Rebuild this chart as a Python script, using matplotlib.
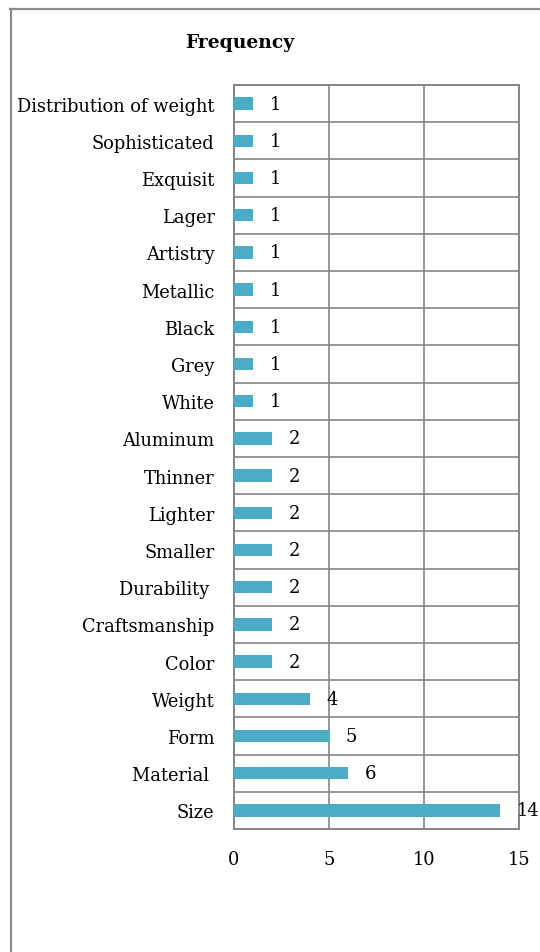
import matplotlib.pyplot as plt
from matplotlib.lines import Line2D
import numpy as np

categories = ["Distribution of weight", "Sophisticated", "Exquisit", "Lager", "Artistry",
              "Metallic", "Black", "Grey", "White", "Aluminum", "Thinner", "Lighter",
              "Smaller", "Durability ", "Craftsmanship", "Color", "Weight", "Form",
              "Material ", "Size"]
values = [1, 1, 1, 1, 1, 1, 1, 1, 1, 2, 2, 2, 2, 2, 2, 2, 4, 5, 6, 14]
xticks = [0, 5, 10, 15]

plt.rcParams['font.family'] = ['DejaVu Serif']

W, H = 540, 953
fig = plt.figure(figsize=(W / 100, H / 100), dpi=100)
ax = fig.add_axes([234 / W, 1 - 830 / H, (519 - 234) / W, (830 - 86) / H])

y = np.arange(len(categories))
ax.barh(y, values, height=0.33, color="#4BACC6", zorder=3)
ax.set_ylim(len(categories) - 0.5, -0.5)
ax.set_xlim(0, 15)

fs = 12.9
ax.set_yticks(y)
ax.set_yticklabels(categories, fontsize=fs)
ax.set_xticks(xticks)
ax.set_xticklabels([str(t) for t in xticks], fontsize=fs)
ax.tick_params(axis="both", length=0)
ax.tick_params(axis="y", pad=14)
ax.tick_params(axis="x", pad=15)

# gridlines between categories and at x ticks
ax.set_yticks(np.arange(len(categories) + 1) - 0.5, minor=True)
ax.tick_params(axis="y", which="minor", length=0)
ax.grid(axis="y", which="minor", color="#868686", linewidth=1.2, zorder=0)
ax.grid(axis="x", which="major", color="#868686", linewidth=1.2, zorder=0)
for s in ax.spines.values():
    s.set_color("#868686")
    s.set_linewidth(1.4)

for yi, v in zip(y, values):
    ax.annotate(str(v), (v, yi), xytext=(12, 0), textcoords="offset points",
                ha="left", va="center", fontsize=fs)

fig.text(240 / W, 1 - 43 / H, "Frequency", ha="center", va="center",
         fontsize=13.5, fontweight="bold")

# outer frame (top and left edges)
fig.add_artist(Line2D([10 / W, 1], [1 - 9.5 / H, 1 - 9.5 / H], transform=fig.transFigure,
                      color="#8a8a8a", linewidth=1.6))
fig.add_artist(Line2D([10.5 / W, 10.5 / W], [0, 1 - 9.5 / H], transform=fig.transFigure,
                      color="#8a8a8a", linewidth=1.6))

fig.savefig("out.png", dpi=100)
